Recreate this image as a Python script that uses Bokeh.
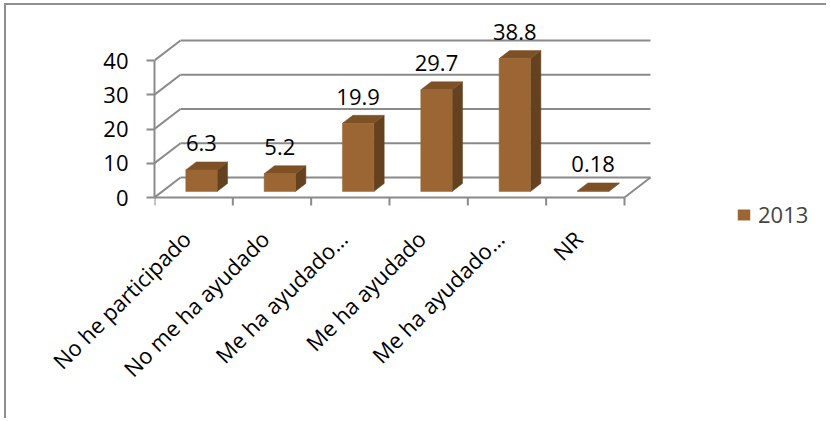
import numpy as np
from bokeh.plotting import figure
from bokeh.models import FixedTicker, Legend, LegendItem
from bokeh.core.properties import value
from bokeh.embed import file_html
from bokeh.resources import INLINE

# ---- data ----
categories = ["No he participado", "No me ha ayudado", "Me ha ayudado\u2026",
              "Me ha ayudado", "Me ha ayudado\u2026", "NR"]
values = [6.3, 5.2, 19.9, 29.7, 38.8, 0.18]
value_labels = ["6.3", "5.2", "19.9", "29.7", "38.8", "0.18"]
series_name = "2013"
y_ticks = [0, 10, 20, 30, 40]

# ---- layout (page pixels) ----
ML, MT, BORDER = 4, 3, 2
OX, OY = ML + BORDER, MT + BORDER           # page position of figure content
W, H = 822, 415
FRAME_LEFT = 154
FRAME_TOP = 16
FRAME_BOTTOM = 240
ZERO_Y = 197
RIGHT = 2
PX_CAT = 78.33
PX_UNIT = 3.425

LEFT = FRAME_LEFT - OX
TOP = FRAME_TOP - OY
BOTTOM = H - (FRAME_BOTTOM - OY)
frame_w = W - LEFT - RIGHT
frame_h = FRAME_BOTTOM - FRAME_TOP
x0 = -0.5
x1 = x0 + frame_w / PX_CAT
y0 = -(FRAME_BOTTOM - ZERO_Y) / PX_UNIT
y1 = y0 + frame_h / PX_UNIT

DX = 26 / PX_CAT      # depth offset in x units
DY = 20 / PX_UNIT     # depth offset in y units
BAR_W = 0.4
F0, F1 = 0.3, 0.7     # bar front/back depth fractions
TICK = 8 / PX_UNIT
LABEL_SHIFT = 0.09375  # category label anchor shift (x units)

GRID = "#8a8a8a"
FRONT = "#9b6634"
TOPC = "#7d5026"
SIDE = "#644220"
FONT = "Open Sans"
FS = "22px"

p = figure(width=W, height=H, x_range=(x0, x1), y_range=(y0, y1),
           min_border_left=LEFT, min_border_right=RIGHT, min_border_top=TOP,
           min_border_bottom=BOTTOM,
           output_backend="svg", toolbar_location=None, outline_line_color=None,
           styles={"border-left": f"{BORDER}px solid #8e8e8e",
                   "border-top": f"{BORDER}px solid #8e8e8e",
                   "margin-left": f"{ML}px", "margin-top": f"{MT}px"})
p.grid.visible = False

ncat = len(categories)
xb_left = x0
xb_right = x0 + ncat
bounds_x = [x0 + i for i in range(ncat + 1)]

yt = np.array(y_ticks, dtype=float)
# back wall gridlines
p.segment(x0=[xb_left + DX] * len(yt), y0=list(yt + DY),
          x1=[xb_right + DX] * len(yt), y1=list(yt + DY),
          line_color=GRID, line_width=2)
# left wall diagonals
p.segment(x0=[xb_left] * len(yt), y0=list(yt), x1=[xb_left + DX] * len(yt), y1=list(yt + DY),
          line_color=GRID, line_width=2)
# floor right edge
p.segment(x0=[xb_right], y0=[0], x1=[xb_right + DX], y1=[DY], line_color=GRID, line_width=2)
# front floor edge (category axis line) and category boundary ticks
p.segment(x0=[xb_left], y0=[0], x1=[xb_right], y1=[0], line_color=GRID, line_width=2)
p.segment(x0=bounds_x, y0=[0] * len(bounds_x), x1=bounds_x, y1=[-TICK] * len(bounds_x),
          line_color=GRID, line_width=2)

# bars
xc = np.arange(ncat, dtype=float)
v = np.array(values, dtype=float)
fl = xc + F0 * DX - BAR_W / 2
fr = xc + F0 * DX + BAR_W / 2
bot = np.full(ncat, F0 * DY)
top = v + F0 * DY
ddx = (F1 - F0) * DX
ddy = (F1 - F0) * DY

side_xs = [[fr[i], fr[i] + ddx, fr[i] + ddx, fr[i]] for i in range(ncat)]
side_ys = [[bot[i], bot[i] + ddy, top[i] + ddy, top[i]] for i in range(ncat)]
p.patches(side_xs, side_ys, fill_color=SIDE, line_color=SIDE, line_width=0.5)

top_xs = [[fl[i], fr[i], fr[i] + ddx, fl[i] + ddx] for i in range(ncat)]
top_ys = [[top[i], top[i], top[i] + ddy, top[i] + ddy] for i in range(ncat)]
p.patches(top_xs, top_ys, fill_color=TOPC, line_color=TOPC, line_width=0.5)

front = p.quad(left=fl, right=fr, bottom=bot, top=top, fill_color=FRONT, line_color=FRONT,
               line_width=0.5)

# value labels
p.text(x=xc + F0 * DX, y=v + F1 * DY + 18.5 / PX_UNIT, text=value_labels,
       text_align="center", text_baseline="alphabetic", text_font=value(FONT),
       text_font_size=FS, text_color="#000000")

# x axis (labels only; line and ticks drawn at the front floor edge)
label_ticks = [i - LABEL_SHIFT for i in range(ncat)]
xa = p.xaxis[0]
xa.ticker = FixedTicker(ticks=label_ticks, minor_ticks=[])
xa.major_label_overrides = {t: c for t, c in zip(label_ticks, categories)}
xa.major_label_orientation = np.pi / 4
xa.major_tick_line_color = None
xa.major_tick_out = 0
xa.major_tick_in = 0
xa.minor_tick_line_color = None
xa.minor_tick_out = 0
xa.minor_tick_in = 0
xa.axis_line_color = None
xa.major_label_standoff = -6
xa.major_label_text_font = FONT
xa.major_label_text_font_size = FS
xa.major_label_text_color = "#000000"

# y axis
ya = p.yaxis[0]
ya.ticker = FixedTicker(ticks=y_ticks)
ya.bounds = (y_ticks[0], y_ticks[-1])
ya.major_tick_out = 8
ya.major_tick_in = 0
ya.major_tick_line_color = GRID
ya.major_tick_line_width = 2
ya.minor_tick_line_color = None
ya.axis_line_color = GRID
ya.axis_line_width = 2
ya.major_label_standoff = 18
ya.major_label_text_font = FONT
ya.major_label_text_font_size = FS
ya.major_label_text_color = "#000000"

legend = Legend(items=[LegendItem(label=series_name, renderers=[front])],
                location=(736 - FRAME_LEFT, 11), glyph_width=15, glyph_height=13,
                label_text_font=FONT, label_text_font_size=FS, label_standoff=7,
                label_height=13,
                border_line_color=None, background_fill_alpha=0, padding=0, margin=0)
p.add_layout(legend)

open("out.html", "w").write(file_html(p, INLINE))
